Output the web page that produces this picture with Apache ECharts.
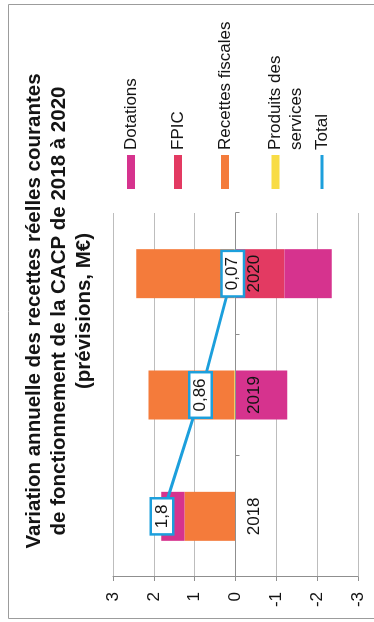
<!DOCTYPE html>
<html>
<head>
<meta charset="utf-8">
<script src="https://cdn.jsdelivr.net/npm/echarts@6/dist/echarts.min.js"></script>
<style>
  html, body { margin: 0; padding: 0; background: #ffffff; overflow: hidden; width: 374px; height: 622px; }
  /* The chart is laid out landscape and turned a quarter turn to sit upright on the page */
  #chart { position: absolute; left: 0; top: 622px; width: 622px; height: 374px;
           transform-origin: 0 0; transform: rotate(-90deg); }
</style>
</head>
<body>
<div id="chart"></div>
<script>
// Annual variation of current operating revenue, M€
const years = ['2018', '2019', '2020'];
const produitsServices = [0, 0.03, 0.03];
const recettesFiscales = [1.25, 2.10, 2.40];
const fpic = [0, 0, -1.20];
const dotations = [0.57, -1.27, -1.16];
const total = [1.8, 0.86, 0.07];
const valueAxisMin = -3;
const valueAxisMax = 3;
const valueAxisStep = 1;

const FONT = '"Liberation Sans", Arial, sans-serif';
const TEXT = '#141414';
const AXIS = '#8f8f8f';
const BLUE = '#1c9fdc';

// plot box (landscape coordinates)
const GRID = { left: 45, right: 213, top: 113, bottom: 16 };
const plotHeight = 374 - GRID.top - GRID.bottom;
// distance from the bottom edge of the plot up to the zero value
const zeroOffset = plotHeight * (0 - valueAxisMin) / (valueAxisMax - valueAxisMin);

const chart = echarts.init(document.getElementById('chart'), null, { renderer: 'canvas' });

const barBase = { type: 'bar', stack: 'variation', barWidth: 49, emphasis: { disabled: true } };
const legendText = { fontFamily: FONT, fontSize: 17, lineHeight: 20, color: TEXT };

chart.setOption({
  backgroundColor: '#ffffff',
  animation: false,
  title: {
    text: 'Variation annuelle des recettes réelles courantes\nde fonctionnement de la CACP de 2018 à 2020\n(prévisions, M€)',
    left: 'center',
    top: 22,
    padding: 0,
    textStyle: { fontFamily: FONT, fontSize: 20.5, fontWeight: 'bold', lineHeight: 25, color: TEXT }
  },
  legend: [
    {
      data: ['Dotations', 'FPIC', 'Recettes fiscales'],
      orient: 'vertical', left: 433, top: 121, padding: 0,
      icon: 'rect', itemWidth: 34, itemHeight: 8, itemGap: 27,
      selectedMode: false, textStyle: legendText
    },
    {
      data: ['Produits des services'],
      orient: 'vertical', left: 433, top: 244, padding: 0,
      icon: 'rect', itemWidth: 34, itemHeight: 8,
      selectedMode: false,
      formatter: () => '\nProduits des\nservices',
      textStyle: { fontFamily: FONT, fontSize: 17, lineHeight: 21, color: TEXT }
    },
    {
      data: ['Total'],
      orient: 'vertical', left: 433, top: 312, padding: 0,
      icon: 'rect', itemWidth: 34, itemHeight: 3,
      selectedMode: false, textStyle: legendText
    }
  ],
  grid: { ...GRID, containLabel: false, outerBoundsMode: 'none' },
  xAxis: {
    type: 'category',
    data: years,
    z: 3,
    position: 'bottom',
    offset: -zeroOffset,
    axisLine: { onZero: false, lineStyle: { color: AXIS, width: 1 } },
    axisTick: { show: true, length: 4, lineStyle: { color: AXIS } },
    axisLabel: { fontFamily: FONT, fontSize: 17, color: TEXT, margin: 10 },
    splitLine: { show: false }
  },
  yAxis: {
    type: 'value',
    min: valueAxisMin, max: valueAxisMax, interval: valueAxisStep,
    axisLine: { show: true, lineStyle: { color: AXIS, width: 1 } },
    axisTick: { show: true, length: 4, lineStyle: { color: AXIS } },
    axisLabel: { fontFamily: FONT, fontSize: 17, color: TEXT, margin: 15 },
    splitLine: { show: true, lineStyle: { color: '#bdbdbd', width: 1 } }
  },
  graphic: [
    {
      // frame around the chart, open on the bottom side
      type: 'polyline', silent: true, z: -1,
      shape: { points: [[617.5, 374], [617.5, 8.5], [3.5, 8.5], [3.5, 374]] },
      style: { fill: null, stroke: '#9c9c9c', lineWidth: 1 }
    }
  ],
  series: [
    { ...barBase, name: 'Produits des services', data: produitsServices, itemStyle: { color: '#f8dc45' } },
    { ...barBase, name: 'Recettes fiscales', data: recettesFiscales, itemStyle: { color: '#f47b3b' } },
    { ...barBase, name: 'FPIC', data: fpic, itemStyle: { color: '#e33a62' } },
    { ...barBase, name: 'Dotations', data: dotations, itemStyle: { color: '#d6338e' } },
    {
      type: 'line', name: 'Total', data: total, z: 5,
      symbol: 'circle', symbolSize: 1,
      lineStyle: { width: 3, color: BLUE },
      itemStyle: { color: BLUE },
      emphasis: { disabled: true },
      label: {
        show: true, position: 'inside',
        formatter: p => String(p.value).replace('.', ','),
        fontFamily: FONT, fontSize: 17, color: TEXT,
        backgroundColor: '#ffffff', borderColor: BLUE, borderWidth: 2.5,
        padding: [2, 5, 1, 5]
      }
    }
  ]
});
</script>
</body>
</html>
